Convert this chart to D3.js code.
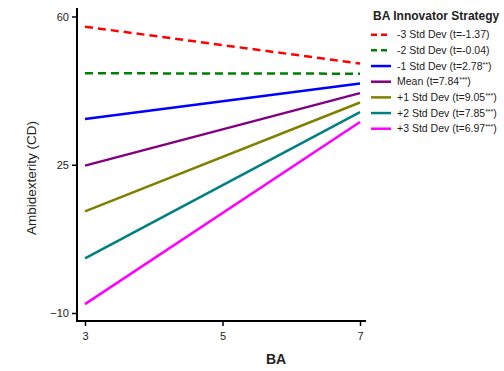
<!DOCTYPE html>
<html>
<head>
<meta charset="utf-8">
<script src="https://cdn.jsdelivr.net/npm/d3@7"></script>
<style>
  body { margin: 0; background: #fff; }
  text { font-family: Arial, "Liberation Sans", sans-serif; fill: #222; }
</style>
</head>
<body>
<div id="chart"></div>
<script>
const xTicks = [3, 5, 7]
const yTicks = [-10, 25, 60]
const seriesNames = ['-3 Std Dev', '-2 Std Dev', '-1 Std Dev', 'Mean', '+1 Std Dev', '+2 Std Dev', '+3 Std Dev']
const tValues = ['-1.37', '-0.04', '2.78', '7.84', '9.05', '7.85', '6.97']
const stars = ['', '', '**', '***', '***', '***', '***']
const startValues = [57.6, 46.6, 35.8, 24.8, 14.0, 2.9, -7.9]
const endValues = [48.9, 46.5, 44.2, 41.9, 39.7, 37.4, 35.1]
const colors = ['#ff0000', '#008000', '#0000ff', '#800080', '#808000', '#008080', '#ff00ff']
const dashed = [true, true, false, false, false, false, false]

const width = 504
const height = 371

const svg = d3.select('#chart')
    .append('svg')
    .attr('width', width)
    .attr('height', height)

const xScale = d3.scaleLinear().domain([3, 7]).range([85, 360])
const yScale = d3.scaleLinear().domain([-10, 60]).range([313, 16.5])

// axis lines
svg.append('line')
    .attr('x1', 77).attr('x2', 77).attr('y1', 8).attr('y2', 321)
    .attr('stroke', '#000').attr('stroke-width', 2)
svg.append('line')
    .attr('x1', 76).attr('x2', 366).attr('y1', 321).attr('y2', 321)
    .attr('stroke', '#000').attr('stroke-width', 2)

const yAxis = d3.axisLeft(yScale).tickValues(yTicks).tickSize(5).tickPadding(3).tickFormat(d3.format('d'))
const xAxis = d3.axisBottom(xScale).tickValues(xTicks).tickSize(5).tickPadding(6).tickFormat(d3.format('d'))

const gy = svg.append('g').attr('transform', 'translate(77,0)').call(yAxis)
const gx = svg.append('g').attr('transform', 'translate(0,321)').call(xAxis)
for (const g of [gx, gy]) {
    g.select('.domain').remove()
    g.selectAll('line').attr('stroke', '#000').attr('stroke-width', 1.5)
    g.selectAll('text').style('font-size', '11px').attr('fill', '#222')
}

svg.append('text')
    .attr('x', 276).attr('y', 364)
    .attr('text-anchor', 'middle')
    .style('font-size', '14px').style('font-weight', 'bold')
    .text('BA')

svg.append('text')
    .attr('transform', 'translate(36,178) rotate(-90)')
    .attr('text-anchor', 'middle')
    .style('font-size', '13.5px')
    .text('Ambidexterity (CD)')

const line = d3.line().x((d) => xScale(d[0])).y((d) => yScale(d[1]))

svg.selectAll('path.series')
    .data(seriesNames)
    .enter()
    .append('path')
    .attr('class', 'series')
    .attr('d', (d, i) => line([[3, startValues[i]], [7, endValues[i]]]))
    .attr('fill', 'none')
    .attr('stroke', (d, i) => colors[i])
    .attr('stroke-width', 2.5)
    .attr('stroke-dasharray', (d, i) => dashed[i] ? '8,5' : null)

// legend
const legend = svg.append('g')
legend.append('text')
    .attr('x', 373).attr('y', 20)
    .style('font-size', '12px').style('font-weight', 'bold')
    .text('BA Innovator Strategy')

const items = legend.selectAll('g.item')
    .data(seriesNames)
    .enter()
    .append('g')
    .attr('class', 'item')
    .attr('transform', (d, i) => `translate(0,${34.7 + i * 15.67})`)

items.append('line')
    .attr('x1', 371).attr('x2', 391).attr('y1', 0).attr('y2', 0)
    .attr('stroke', (d, i) => colors[i])
    .attr('stroke-width', 2.5)
    .attr('stroke-dasharray', (d, i) => dashed[i] ? '6,4' : null)

const labels = items.append('text')
    .attr('x', 397).attr('y', 3.5)
    .style('font-size', '10.5px')
labels.append('tspan').text((d, i) => `${d} (t=${tValues[i]}`)
labels.append('tspan')
    .attr('dy', -3)
    .style('font-size', '7px')
    .text((d, i) => stars[i])
labels.append('tspan')
    .attr('dy', (d, i) => stars[i] ? 3 : 0)
    .text(')')
</script>
</body>
</html>
